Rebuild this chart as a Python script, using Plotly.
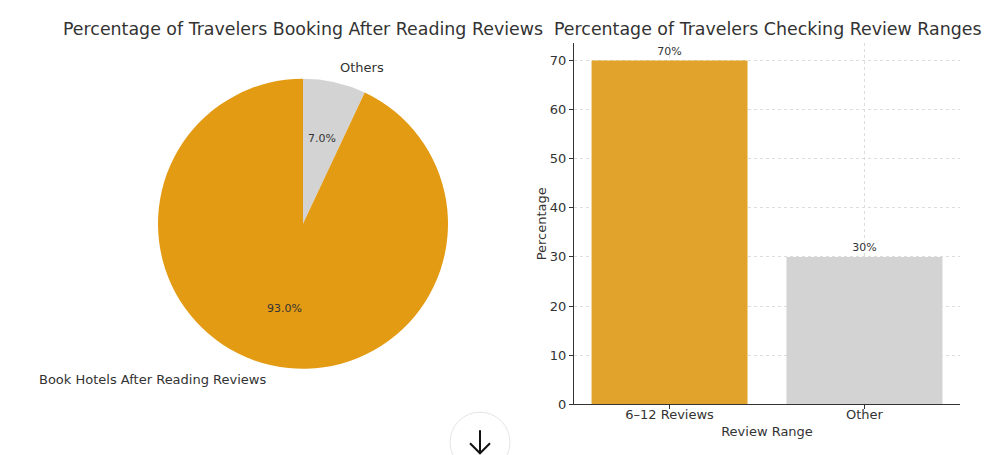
import math
import plotly.graph_objects as go

# pie data
pie_labels = ['Book Hotels After Reading Reviews', 'Others']
pie_values = [93, 7]
pie_colors = ['#E39B13', '#D3D3D3']

# bar data
bar_cats = ['6–12 Reviews', 'Other']
bar_values = [70, 30]
bar_colors = ['#E2A32C', '#D3D3D3']

W, H = 1004, 455
OFF_X, OFF_Y = 8, 8.7   # page body margin
H_EFF = H - 9           # height the plot actually gets in the window
FONT = 'DejaVu Sans'
TXT = '#333333'

# pie geometry (pixels, as seen in the screenshot)
cx, cy, rad = 303, 224, 145


def px(x):
    return (x - OFF_X) / W


def py(y):
    return 1 - (y - OFF_Y) / H_EFF


fig = go.Figure()

# matplotlib draws counterclockwise from 12 o'clock; same thing as
# plotly clockwise with the slices taken in reverse order
fig.add_trace(go.Pie(
    labels=pie_labels[::-1],
    values=pie_values[::-1],
    marker=dict(colors=pie_colors[::-1], line=dict(width=0)),
    sort=False,
    direction='clockwise',
    rotation=0,
    textinfo='none',
    hoverinfo='label+percent',
    showlegend=False,
    domain=dict(x=[px(cx - rad), px(cx + rad)], y=[py(cy + rad), py(cy - rad)]),
))

# matplotlib-like label placement: labels at 1.1 r, pct at 0.6 r
total = sum(pie_values)
start = 90.0
annotations = []
for lab, val in zip(pie_labels, pie_values):
    span = 360.0 * val / total
    mid = math.radians(start + span / 2)
    start += span
    dx, dy = math.cos(mid), math.sin(mid)
    annotations.append(dict(
        x=px(cx + 1.1 * rad * dx), y=py(cy - 1.1 * rad * dy),
        xref='paper', yref='paper', text=lab, showarrow=False,
        xanchor='left' if dx > 0 else 'right', yanchor='middle',
        font=dict(family=FONT, size=13, color=TXT),
    ))
    annotations.append(dict(
        x=px(cx + 0.6 * rad * dx), y=py(cy - 0.6 * rad * dy),
        xref='paper', yref='paper', text='%.1f%%' % (100.0 * val / total),
        showarrow=False, xanchor='center', yanchor='middle',
        font=dict(family=FONT, size=11, color=TXT),
    ))

fig.add_trace(go.Bar(
    x=bar_cats,
    y=bar_values,
    marker=dict(color=bar_colors, line=dict(width=0)),
    width=0.8,
    text=['%d%%' % v for v in bar_values],
    textposition='outside',
    cliponaxis=False,
    textfont=dict(family=FONT, size=11, color=TXT),
    showlegend=False,
    xaxis='x', yaxis='y',
))

# titles
annotations.append(dict(x=px(303), y=py(30), xref='paper', yref='paper',
                        text='Percentage of Travelers Booking After Reading Reviews',
                        showarrow=False, xanchor='center', yanchor='middle',
                        font=dict(family=FONT, size=17.4, color=TXT)))
annotations.append(dict(x=px(767), y=py(30), xref='paper', yref='paper',
                        text='Percentage of Travelers Checking Review Ranges',
                        showarrow=False, xanchor='center', yanchor='middle',
                        font=dict(family=FONT, size=17.4, color=TXT)))

axis_font = dict(family=FONT, size=13, color=TXT)

fig.update_layout(
    width=W, height=H,
    margin=dict(l=0, r=0, t=0, b=0),
    paper_bgcolor='white', plot_bgcolor='white',
    font=dict(family=FONT, color=TXT),
    bargap=0.2,
    xaxis=dict(
        domain=[px(574), px(960)],
        range=[-0.49, 1.49],
        showline=True, linecolor='#333333', linewidth=1.2,
        ticks='outside', ticklen=4, tickcolor='#333333',
        ticklabelstandoff=-6,
        showgrid=True, gridcolor='#DDDDDD', griddash='dot', gridwidth=1,
        tickfont=axis_font,
        title=dict(text='Review Range', font=axis_font, standoff=6),
        anchor='y', zeroline=False, fixedrange=True,
    ),
    yaxis=dict(
        domain=[py(404), py(44)],
        range=[0, 73.5],
        tickvals=[0, 10, 20, 30, 40, 50, 60, 70],
        showline=True, linecolor='#333333', linewidth=1.2,
        ticks='outside', ticklen=4, tickcolor='#333333',
        showgrid=True, gridcolor='#DDDDDD', griddash='dot', gridwidth=1,
        tickfont=axis_font,
        title=dict(text='Percentage', font=axis_font, standoff=0),
        anchor='x', zeroline=False, fixedrange=True,
    ),
    annotations=annotations,
    shapes=[
        # scroll-down button seen at the bottom of the screenshot
        dict(type='circle', xref='paper', yref='paper',
             x0=px(450), x1=px(510), y0=py(472), y1=py(412),
             line=dict(color='#E5E5E5', width=1), fillcolor='white'),
        dict(type='path', xref='paper', yref='paper',
             path='M %f %f L %f %f M %f %f L %f %f L %f %f' % (
                 px(480), py(430), px(480), py(453),
                 px(470), py(443), px(480), py(453), px(490), py(443)),
             line=dict(color='#111111', width=2)),
    ],
)

fig.write_html('out.html')
